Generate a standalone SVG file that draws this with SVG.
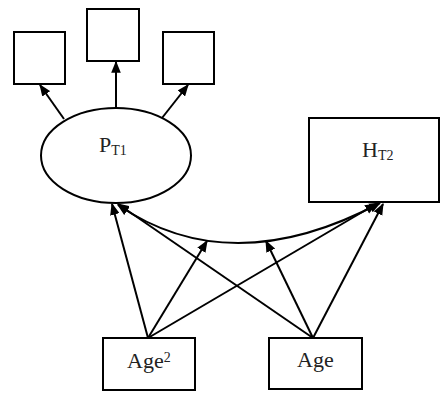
<svg xmlns="http://www.w3.org/2000/svg" width="442" height="395" viewBox="0 0 442 395">
<style>
.box{fill:#fff;stroke:#000;stroke-width:2}
.ln{fill:none;stroke:#000;stroke-width:2}
.t{font-family:"Liberation Serif","Times New Roman",serif;font-size:22px;fill:#222}
.s{font-size:14px}
</style>
<defs>
<marker id="ah" viewBox="0 0 10 8" refX="9" refY="4" markerWidth="12" markerHeight="10" markerUnits="userSpaceOnUse" orient="auto-start-reverse">
<path d="M0,0 L10,4 L0,8 Z" fill="#000"/>
</marker>
</defs>
<rect width="442" height="395" fill="#fff"/>
<g id="connectors">
<line class="ln" x1="64" y1="119" x2="40" y2="85" marker-end="url(#ah)"/>
<line class="ln" x1="116" y1="108" x2="116" y2="62" marker-end="url(#ah)"/>
<line class="ln" x1="162" y1="118" x2="188" y2="85" marker-end="url(#ah)"/>
<line class="ln" x1="148" y1="338" x2="112" y2="204" marker-end="url(#ah)"/>
<line class="ln" x1="313" y1="338" x2="118" y2="204" marker-end="url(#ah)"/>
<line class="ln" x1="148" y1="338" x2="207" y2="241" marker-end="url(#ah)"/>
<line class="ln" x1="313" y1="338" x2="266" y2="241" marker-end="url(#ah)"/>
<line class="ln" x1="148" y1="338" x2="376" y2="204" marker-end="url(#ah)"/>
<line class="ln" x1="313" y1="338" x2="383" y2="204" stroke-width="3" marker-end="url(#ah)"/>
<path class="ln" d="M118,205 Q231,282 380,203" marker-start="url(#ah)" marker-end="url(#ah)"/>
</g>
<g id="ind1"><rect class="box" x="14" y="32" width="51" height="52"/></g>
<g id="ind2"><rect class="box" x="87" y="9" width="52" height="52"/></g>
<g id="ind3"><rect class="box" x="163" y="32" width="51" height="52"/></g>
<g id="PT1">
<ellipse class="box" cx="116" cy="155.5" rx="75" ry="47.5"/>
<text class="t" x="99" y="152">P<tspan class="s" dy="3">T1</tspan></text>
</g>
<g id="HT2">
<rect class="box" x="309" y="118" width="130" height="84"/>
<text class="t" x="362" y="157">H<tspan class="s" dy="3">T2</tspan></text>
</g>
<g id="Age2">
<rect class="box" x="103" y="338" width="92" height="52"/>
<text class="t" x="127" y="368">Age<tspan class="s" dy="-6">2</tspan></text>
</g>
<g id="Age">
<rect class="box" x="269" y="338" width="93" height="51"/>
<text class="t" x="297" y="367">Age</text>
</g>
</svg>
